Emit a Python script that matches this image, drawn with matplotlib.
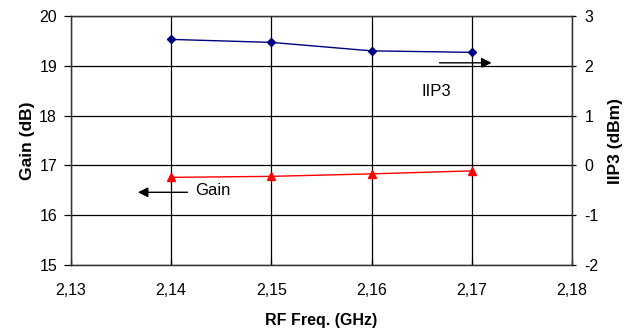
import numpy as np
import matplotlib.pyplot as plt
import matplotlib as mpl
from matplotlib.ticker import FuncFormatter

mpl.rcParams['font.family'] = ['Liberation Sans', 'DejaVu Sans']
mpl.rcParams['font.size'] = 11.5
mpl.rcParams['axes.unicode_minus'] = False

# data
freq = [2.14, 2.15, 2.16, 2.17]
gain = [16.76, 16.78, 16.83, 16.89]
iip3 = [2.53, 2.47, 2.30, 2.27]

xticks = [2.13, 2.14, 2.15, 2.16, 2.17, 2.18]

fig = plt.figure(figsize=(6.36, 3.35), dpi=100)
ax = fig.add_axes([71 / 636, 70 / 335, 501 / 636, 249 / 335])
ax2 = ax.twinx()

ax.plot(freq, gain, '-', color='#ff0000', lw=1, marker='^', ms=6, mfc='#ff0000', mec='#ff0000')
ax2.plot(freq, iip3, '-', color='#000080', lw=1, marker='D', ms=4.5, mfc='#000080', mec='#000080')

ax.set_xlim(2.13, 2.18)
ax.set_ylim(15, 20)
ax2.set_ylim(-2, 3)
ax.set_xticks(xticks)
ax.set_yticks(range(15, 21))
ax2.set_yticks(range(-2, 4))
ax.xaxis.set_major_formatter(FuncFormatter(lambda v, p: ('%.2f' % v).replace('.', ',')))

ax.grid(True, color='black', lw=0.9)
for a in (ax, ax2):
    for s in a.spines.values():
        s.set_color('#333333')
        s.set_linewidth(0.9)
ax.tick_params(axis='y', direction='out', length=5, width=0.9, pad=5, labelsize=11.5)
ax.tick_params(axis='x', direction='in', length=4, width=0.9, pad=13, labelsize=11.5)
ax2.tick_params(axis='y', direction='out', length=3, width=0.9, pad=6, labelsize=11.5)

ax.set_xlabel('RF Freq. (GHz)', fontweight='bold', fontsize=11.5, labelpad=11)
ax.set_ylabel('Gain (dB)', fontweight='bold', fontsize=12.5, labelpad=3)
ax2.set_ylabel('IIP3 (dBm)', fontweight='bold', fontsize=12.5, labelpad=7)

# arrow labels
ax.annotate('', xy=(0.845, 0.812), xytext=(0.730, 0.812), xycoords='axes fraction',
            arrowprops=dict(arrowstyle='-|>', color='black', lw=1, mutation_scale=15))
ax.text(0.729, 0.696, 'IIP3', transform=ax.transAxes, ha='center', va='center', fontsize=12)
ax.annotate('', xy=(0.128, 0.292), xytext=(0.238, 0.292), xycoords='axes fraction',
            arrowprops=dict(arrowstyle='-|>', color='black', lw=1, mutation_scale=15))
ax.text(0.248, 0.301, 'Gain', transform=ax.transAxes, ha='left', va='center', fontsize=12)

fig.savefig('out.png', dpi=100)
